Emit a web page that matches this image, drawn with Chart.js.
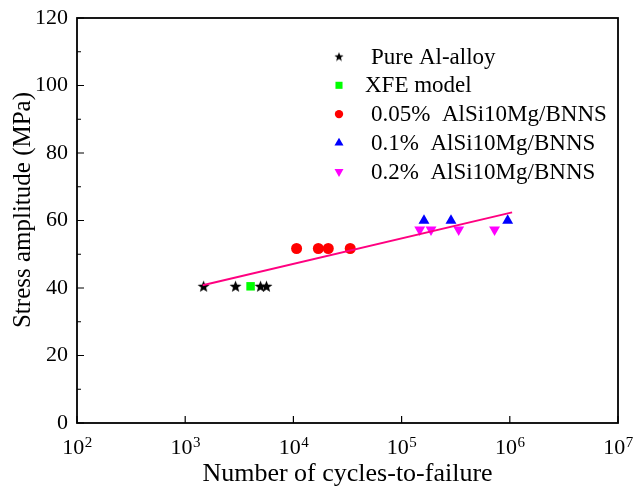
<!DOCTYPE html>
<html>
<head>
<meta charset="utf-8">
<script src="https://cdn.jsdelivr.net/npm/chart.js@4.4.1/dist/chart.umd.min.js"></script>
<style>
html, body { margin: 0; padding: 0; background: #fff; }
#wrap { width: 635px; height: 487px; }
</style>
</head>
<body>
<div id="wrap"><canvas id="fatigue"></canvas></div>
<script>
// values
const pureCycles = [1480, 2920, 4970, 5640];
const pureStress = [40.5, 40.5, 40.5, 40.5];
const xfeCycles = [4020];
const xfeStress = [40.5];
const bn005Cycles = [10700, 17000, 21000, 33500];
const bn005Stress = [51.7, 51.7, 51.7, 51.7];
const bn01Cycles = [161000, 286000, 956000];
const bn01Stress = [60, 60, 60];
const bn02Cycles = [147000, 187000, 337000, 723000];
const bn02Stress = [57.3, 57.3, 57.3, 57.3];
const fitCycles = [1450, 1050000];
const fitStress = [40.8, 62.4];
const xTickValues = [1e2, 1e3, 1e4, 1e5, 1e6, 1e7];
const yMinorValues = [10, 30, 50, 70, 90, 110];

const FONT = '"Liberation Serif", "Times New Roman", serif';

function toPoints(xs, ys) {
    return xs.map((x, i) => ({ x: x, y: ys[i] }));
}

// filled five point star, Chart.js only has the outlined one
function makeStar(size) {
    const c = document.createElement('canvas');
    c.width = size; c.height = size;
    const g = c.getContext('2d');
    const cx = size / 2, cy = size / 2 + 0.5, ro = size / 2 - 0.2, ri = ro * 0.42;
    g.beginPath();
    for (let i = 0; i < 10; i++) {
        const r = i % 2 ? ri : ro;
        const a = -Math.PI / 2 + i * Math.PI / 5;
        g.lineTo(cx + r * Math.cos(a), cy + r * Math.sin(a));
    }
    g.closePath();
    g.fillStyle = '#000';
    g.fill();
    return c;
}
const starBig = makeStar(13);
const starSmall = makeStar(10);

const markerSets = [
    { label: 'Pure Al-alloy', data: toPoints(pureCycles, pureStress), pointStyle: starBig, color: '#000000', radius: 6, legendStyle: starSmall },
    { label: 'XFE model', data: toPoints(xfeCycles, xfeStress), pointStyle: 'rect', color: '#00ff00', radius: 6, legendRadius: 5 },
    { label: '0.05%  AlSi10Mg/BNNS', data: toPoints(bn005Cycles, bn005Stress), pointStyle: 'circle', color: '#ff0000', radius: 5.5, legendRadius: 4.2 },
    { label: '0.1%  AlSi10Mg/BNNS', data: toPoints(bn01Cycles, bn01Stress), pointStyle: 'triangle', color: '#0000ff', radius: 6.3, legendRadius: 5.2 },
    { label: '0.2%  AlSi10Mg/BNNS', data: toPoints(bn02Cycles, bn02Stress), pointStyle: 'triangle', rotation: 180, color: '#ff00ff', radius: 6.3, legendRadius: 5.2 }
];

const datasets = [{
    label: 'fit',
    type: 'line',
    data: toPoints(fitCycles, fitStress),
    borderColor: 'rgb(255, 0, 128)',
    borderWidth: 2,
    pointRadius: 0,
    showLine: true,
    order: 0
}];
markerSets.forEach(function (m) {
    datasets.push({
        label: m.label,
        data: m.data,
        pointStyle: m.pointStyle,
        rotation: m.rotation || 0,
        backgroundColor: m.color,
        borderColor: m.color,
        borderWidth: 0,
        pointRadius: m.radius,
        pointHoverRadius: m.radius,
        order: 1
    });
});

// box, inward tick marks, 10^n labels, y title and the in-plot legend
const framePlugin = {
    id: 'frame',
    afterDraw(chart) {
        const ctx = chart.ctx;
        const a = chart.chartArea;
        const xs = chart.scales.x, ys = chart.scales.y;
        ctx.save();
        ctx.strokeStyle = '#000';
        ctx.lineWidth = 1.2;
        ctx.beginPath();
        xTickValues.forEach(function (v) {
            const px = xs.getPixelForValue(v);
            ctx.moveTo(px, a.bottom);
            ctx.lineTo(px, a.bottom - 7);
        });
        ys.ticks.forEach(function (t) {
            const py = ys.getPixelForValue(t.value);
            ctx.moveTo(a.left, py);
            ctx.lineTo(a.left + 7, py);
        });
        yMinorValues.forEach(function (v) {
            const py = ys.getPixelForValue(v);
            ctx.moveTo(a.left, py);
            ctx.lineTo(a.left + 4, py);
        });
        ctx.stroke();
        ctx.lineWidth = 1.8;
        ctx.strokeRect(a.left, a.top, a.right - a.left, a.bottom - a.top);

        // x tick labels as 10 with a raised exponent
        ctx.fillStyle = '#000';
        ctx.textBaseline = 'alphabetic';
        ctx.textAlign = 'left';
        xTickValues.forEach(function (v) {
            const px = xs.getPixelForValue(v);
            const base = '10';
            const exp = String(Math.round(Math.log10(v)));
            ctx.font = '22px ' + FONT;
            const wb = ctx.measureText(base).width;
            ctx.font = '15px ' + FONT;
            const we = ctx.measureText(exp).width;
            const x0 = px - (wb + we) / 2;
            ctx.font = '22px ' + FONT;
            ctx.fillText(base, x0, a.bottom + 31);
            ctx.font = '15px ' + FONT;
            ctx.fillText(exp, x0 + wb + 0.5, a.bottom + 24);
        });

        // y title
        ctx.save();
        ctx.translate(23, 210);
        ctx.rotate(-Math.PI / 2);
        ctx.textAlign = 'center';
        ctx.textBaseline = 'middle';
        ctx.font = '25px ' + FONT;
        ctx.fillText('Stress amplitude (MPa)', 0, 0);
        ctx.restore();

        // legend
        ctx.font = '23px ' + FONT;
        ctx.textBaseline = 'middle';
        ctx.textAlign = 'left';
        const lx = 339, ly = 56.5, step = 28.8;
        markerSets.forEach(function (m, i) {
            const y = ly + i * step;
            const opts = {
                pointStyle: m.legendStyle || m.pointStyle,
                rotation: m.rotation || 0,
                radius: m.legendRadius || 5,
                borderWidth: 0
            };
            ctx.fillStyle = m.color;
            ctx.strokeStyle = m.color;
            Chart.helpers.drawPoint(ctx, opts, lx, y);
            ctx.fillStyle = '#000';
            ctx.fillText(m.label, i === 1 ? 365 : 371, y + 1);
        });
        ctx.restore();
    }
};

new Chart(document.getElementById('fatigue'), {
    type: 'scatter',
    data: { datasets: datasets },
    options: {
        responsive: true,
        maintainAspectRatio: false,
        animation: false,
        layout: { padding: { left: 0, right: 17, top: 18, bottom: 0 } },
        plugins: {
            legend: { display: false },
            tooltip: { enabled: false }
        },
        scales: {
            x: {
                type: 'logarithmic',
                min: 1e2,
                max: 1e7,
                afterFit(scale) {
                    scale.height = 64;
                    scale.paddingLeft = 0;
                    scale.paddingRight = 0;
                },
                grid: { display: false, drawTicks: false },
                border: { display: false },
                ticks: { display: false },
                title: {
                    display: true,
                    text: 'Number of cycles-to-failure',
                    color: '#000',
                    font: { family: FONT, size: 26 },
                    padding: { top: 0, bottom: -3 }
                }
            },
            y: {
                min: 0,
                max: 120,
                afterFit(scale) {
                    scale.width = 77;
                    scale.paddingTop = 0;
                    scale.paddingBottom = 0;
                },
                grid: { display: false, drawTicks: false },
                border: { display: false },
                ticks: {
                    stepSize: 20,
                    color: '#000',
                    padding: 9,
                    font: { family: FONT, size: 22 }
                },
                title: { display: false }
            }
        }
    },
    plugins: [framePlugin]
});
</script>
</body>
</html>
